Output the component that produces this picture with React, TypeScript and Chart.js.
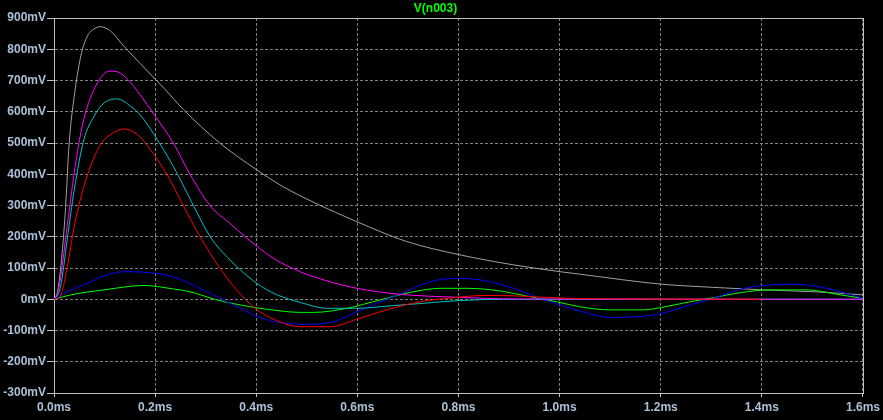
import { useEffect, useRef } from "react";
import { Chart, registerables } from "chart.js";

Chart.register(...registerables);

const TITLE = "V(n003)";
const X_MIN = 0;
const X_MAX = 1.6;
const X_STEP = 0.2;
const Y_MIN = -300;
const Y_MAX = 900;
const Y_STEP = 100;

const grayT = [0, 0.0066, 0.016, 0.023, 0.03, 0.04, 0.053, 0.066, 0.079, 0.092, 0.112, 0.138, 0.198, 0.22, 0.256, 0.328, 0.401, 0.447, 0.487, 0.598, 0.697, 0.803, 0.909, 1.002, 1.041, 1.203, 1.305, 1.401, 1.503, 1.6];
const grayV = [0, 19, 147, 297, 500, 649, 778, 842, 865, 872, 858, 810, 708, 671, 607, 500, 414, 366, 331, 249, 185, 142, 110, 88, 80, 48, 38, 30, 24, 14];

const magentaT = [0, 0.01, 0.026, 0.04, 0.053, 0.066, 0.086, 0.109, 0.125, 0.152, 0.17, 0.198, 0.236, 0.269, 0.309, 0.348, 0.378, 0.434, 0.487, 0.513, 0.599, 0.684, 0.803, 0.909, 1.6];
const magentaV = [0, 40, 233, 404, 532, 617, 692, 730, 728, 692, 655, 591, 500, 400, 299, 243, 200, 131, 88, 72, 35, 16, 6, 1, 0];

const cyanT = [0, 0.013, 0.026, 0.04, 0.059, 0.079, 0.099, 0.125, 0.152, 0.17, 0.198, 0.236, 0.276, 0.309, 0.348, 0.401, 0.44, 0.487, 0.539, 0.599, 0.665, 0.73, 0.803, 0.889, 1.6];
const cyanV = [0, 40, 190, 350, 510, 585, 628, 641, 617, 591, 527, 425, 299, 200, 126, 51, 15, -10, -29, -29, -21, -13, -4, 0, 0];

const redT = [0, 0.012, 0.026, 0.04, 0.063, 0.092, 0.119, 0.138, 0.165, 0.198, 0.223, 0.256, 0.289, 0.328, 0.361, 0.398, 0.44, 0.487, 0.546, 0.599, 0.658, 0.724, 0.79, 0.85, 0.909, 0.975, 1.04, 1.4];
const redV = [0, 8, 100, 233, 382, 495, 534, 545, 527, 462, 400, 299, 200, 100, 30, -29, -68, -88, -88, -64, -34, -8, 5, 12, 11, 6, 2, 0];

const blueT = [0, 0.02, 0.066, 0.105, 0.138, 0.191, 0.236, 0.302, 0.368, 0.407, 0.447, 0.5, 0.552, 0.599, 0.638, 0.691, 0.744, 0.797, 0.843, 0.909, 0.961, 1.007, 1.04, 1.1, 1.153, 1.202, 1.258, 1.304, 1.357, 1.4, 1.449, 1.502, 1.555, 1.6];
const blueV = [0, 19, 51, 78, 88, 85, 72, 24, -29, -58, -75, -80, -72, -40, -13, 21, 56, 67, 62, 35, 3, -21, -38, -58, -56, -45, -18, 3, 32, 43, 48, 43, 24, 3];

const greenT = [0, 0.033, 0.099, 0.178, 0.236, 0.269, 0.322, 0.388, 0.421, 0.487, 0.513, 0.579, 0.645, 0.711, 0.764, 0.816, 0.876, 0.942, 0.994, 1.04, 1.1, 1.166, 1.202, 1.258, 1.304, 1.357, 1.416, 1.489, 1.555, 1.6];
const greenV = [0, 14, 30, 44, 33, 24, -2, -24, -32, -42, -42, -29, -2, 24, 35, 35, 28, 8, -8, -24, -34, -34, -26, -8, 5, 21, 30, 30, 14, 3];

const FONT = { family: "'Liberation Sans', Arial, sans-serif", size: 12, weight: "bold" as const };
const LABEL_COLOR = "#aac0d8";
const FRAME_COLOR = "#c0c0c0";
const GRID_COLOR = "#808080";

function pts(t: number[], v: number[]) {
  return t.map((x, i) => ({ x, y: v[i] }));
}

export default function App() {
  const ref = useRef<HTMLCanvasElement>(null);

  useEffect(() => {
    document.body.style.margin = "0";
    document.body.style.background = "#000";
    const canvas = ref.current;
    if (!canvas) return;

    const series = [
      { data: pts(redT, redV), color: "#ff0000" },
      { data: pts(magentaT, magentaV), color: "#ff00ff" },
      { data: pts(cyanT, cyanV), color: "#00c0c0" },
      { data: pts(blueT, blueV), color: "#0000ff" },
      { data: pts(greenT, greenV), color: "#00ff00" },
      { data: pts(grayT, grayV), color: "#a0a0a0" },
    ];

    const framePlugin = {
      id: "frame",
      beforeDatasetsDraw(chart: any) {
        const { ctx, chartArea } = chart;
        ctx.save();
        ctx.strokeStyle = FRAME_COLOR;
        ctx.lineWidth = 1;
        ctx.setLineDash([]);
        ctx.strokeRect(
          chartArea.left + 0.5,
          chartArea.top + 0.5,
          chartArea.right - chartArea.left,
          chartArea.bottom - chartArea.top
        );
        ctx.restore();
      },
      afterDraw(chart: any) {
        const { ctx, chartArea } = chart;
        ctx.save();
        ctx.fillStyle = "#00ff00";
        ctx.font = "bold 12px 'Liberation Sans', Arial, sans-serif";
        ctx.textAlign = "center";
        ctx.textBaseline = "middle";
        ctx.fillText(TITLE, (chartArea.left + chartArea.right) / 2 - 23, chartArea.top / 2);
        ctx.restore();
      },
    };

    const chart = new Chart(canvas, {
      type: "line",
      data: {
        datasets: series.map((s) => ({
          data: s.data,
          borderColor: s.color,
          backgroundColor: s.color,
          borderWidth: 1,
          pointRadius: 0,
          fill: false,
          cubicInterpolationMode: "monotone" as const,
        })),
      },
      options: {
        animation: false,
        responsive: false,
        maintainAspectRatio: false,
        layout: { padding: { top: 18, right: 20, left: 0, bottom: 0 } },
        plugins: {
          legend: { display: false },
          title: { display: false },
          tooltip: { enabled: false },
        },
        scales: {
          x: {
            type: "linear",
            min: X_MIN,
            max: X_MAX,
            afterFit: (s: any) => {
              s.height = 27;
            },
            ticks: {
              stepSize: X_STEP,
              autoSkip: false,
              maxRotation: 0,
              color: LABEL_COLOR,
              font: FONT,
              padding: 3,
              callback: (v: any) => Number(v).toFixed(1) + "ms",
            },
            grid: {
              color: GRID_COLOR,
              lineWidth: 1,
              tickLength: 4,
              tickColor: FRAME_COLOR,
              drawTicks: true,
            },
            border: { color: FRAME_COLOR, dash: [3, 2] },
          },
          y: {
            type: "linear",
            min: Y_MIN,
            max: Y_MAX,
            afterFit: (s: any) => {
              s.width = 54;
            },
            ticks: {
              stepSize: Y_STEP,
              autoSkip: false,
              color: LABEL_COLOR,
              font: FONT,
              padding: 1,
              callback: (v: any) => Math.round(Number(v)) + "mV",
            },
            grid: {
              color: GRID_COLOR,
              lineWidth: 1,
              tickLength: 7,
              tickColor: FRAME_COLOR,
              drawTicks: true,
            },
            border: { color: FRAME_COLOR, dash: [3, 2] },
          },
        },
      },
      plugins: [framePlugin],
    });

    return () => chart.destroy();
  }, []);

  return (
    <div style={{ width: 883, height: 420, background: "#000" }}>
      <canvas ref={ref} width={883} height={420} style={{ display: "block" }} />
    </div>
  );
}
